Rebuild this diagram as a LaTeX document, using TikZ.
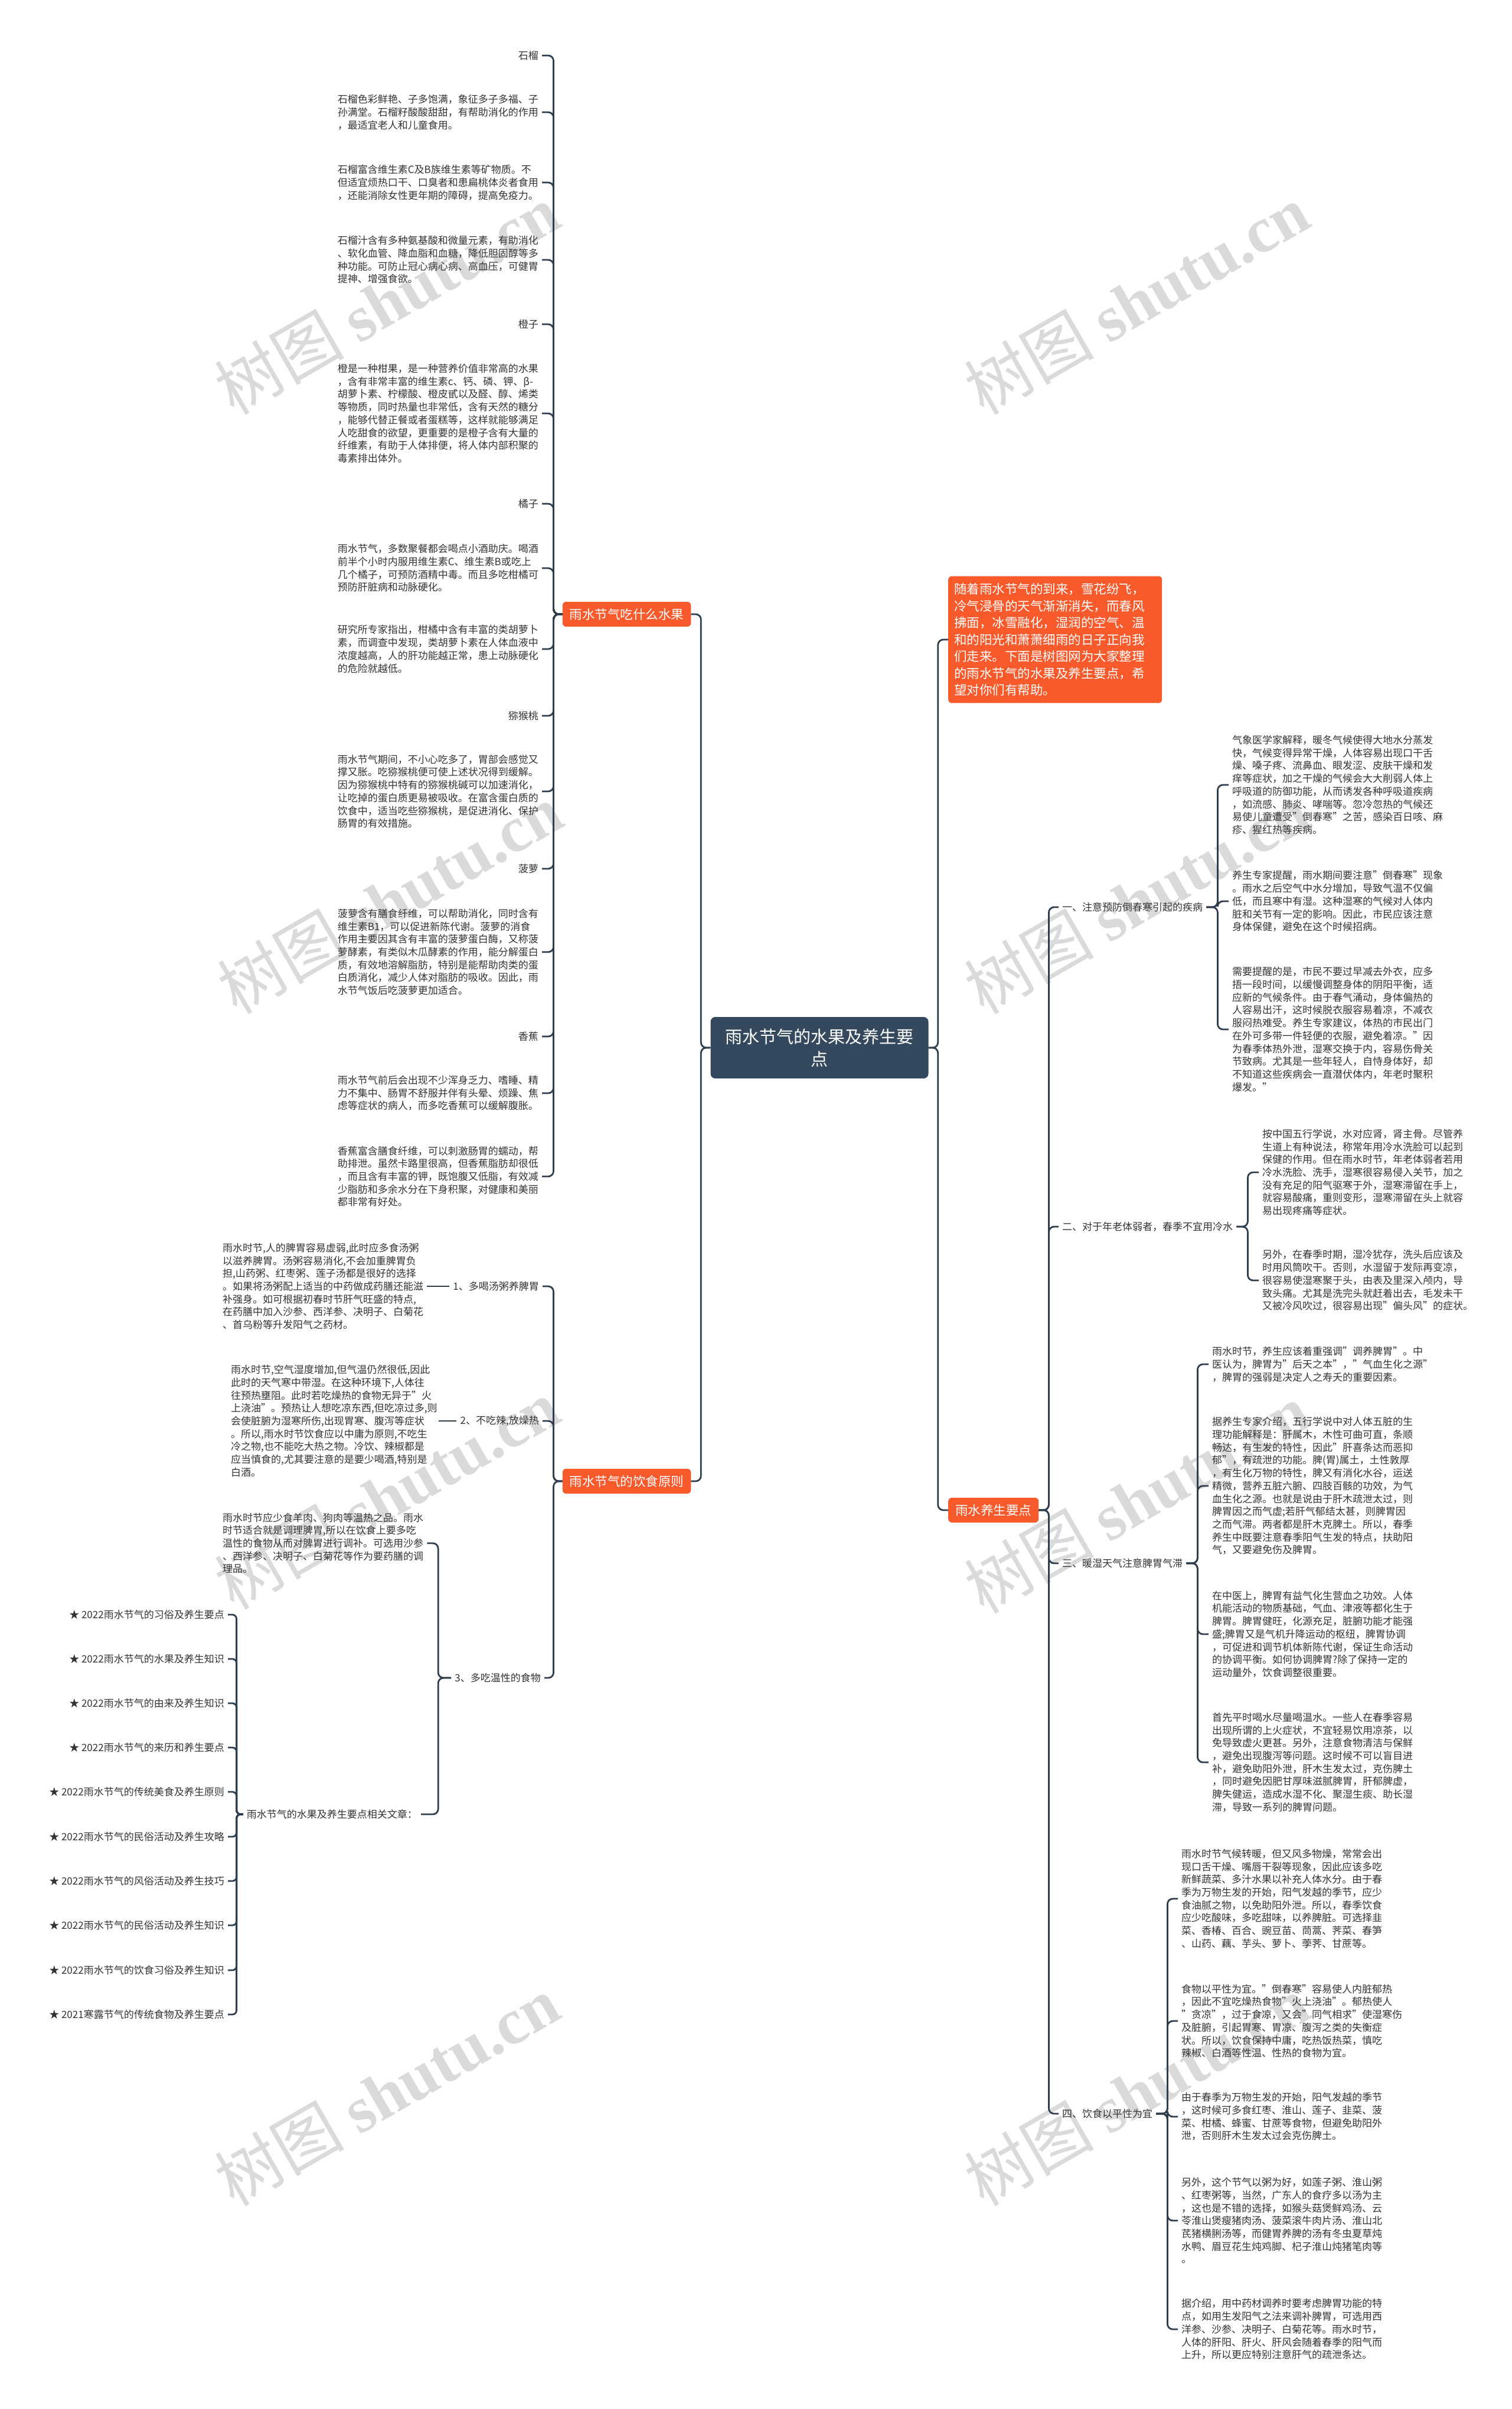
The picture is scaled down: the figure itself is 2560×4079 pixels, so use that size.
\documentclass[tikz,border=0pt]{standalone}
\usepackage{fontspec}
\setmainfont{Noto Sans CJK SC}
\newfontfamily\wmserif{Liberation Serif}
\definecolor{linec}{HTML}{2F3E4E}
\definecolor{orangec}{HTML}{F95A2C}
\definecolor{darkc}{HTML}{34495E}
\definecolor{txtc}{HTML}{333333}
\definecolor{wmc}{HTML}{DADADA}
\begin{document}
\begin{tikzpicture}[x=1pt,y=-1pt,
  txt/.style={font=\fontsize{17pt}{21.7pt}\selectfont,text=txtc,align=left,text width=340pt,inner xsep=6pt,inner ysep=2pt},
  lbl/.style={font=\fontsize{17pt}{21.7pt}\selectfont,text=txtc,inner xsep=6pt,inner ysep=2pt},
  obox/.style={fill=orangec,text=white,rounded corners=6pt,font=\fontsize{21.5pt}{28.5pt}\selectfont,inner xsep=12pt,minimum height=42pt},
  conn/.style={draw=linec,line width=2.8pt,rounded corners=9pt},
  wm/.style={text=wmc,rotate=30,font=\fontsize{110pt}{110pt}\selectfont}
]
\useasboundingbox (0,0) rectangle (2560,4079);
\fill[white] (0,0) rectangle (2560,4079);

% watermarks
\node[wm] (wm1) at (655,507) {树图 {\wmserif\bfseries shutu.cn}};
\node[wm] (wm2) at (1925,507) {树图 {\wmserif\bfseries shutu.cn}};
\node[wm] (wm3) at (660,1522) {树图 {\wmserif\bfseries shutu.cn}};
\node[wm] (wm4) at (1925,1522) {树图 {\wmserif\bfseries shutu.cn}};
\node[wm] (wm5) at (655,2530) {树图 {\wmserif\bfseries shutu.cn}};
\node[wm] (wm6) at (1925,2537) {树图 {\wmserif\bfseries shutu.cn}};
\node[wm] (wm7) at (655,3540) {树图 {\wmserif\bfseries shutu.cn}};
\node[wm] (wm8) at (1925,3540) {树图 {\wmserif\bfseries shutu.cn}};

% root
\node[fill=darkc,text=white,rounded corners=8pt,minimum width=369pt,minimum height=104pt,align=center,font=\fontsize{29pt}{38pt}\selectfont] (root) at (1388,1774) {雨水节气的水果及养生要\\点};

\node[obox,anchor=west,text width=342pt,align=left,inner xsep=10pt,inner ysep=12pt] (intro) at (1606,1083) {随着雨水节气的到来，雪花纷飞，\\冷气浸骨的天气渐渐消失，而春风\\拂面，冰雪融化，湿润的空气、温\\和的阳光和萧萧细雨的日子正向我\\们走来。下面是树图网为大家整理\\的雨水节气的水果及养生要点，希\\望对你们有帮助。};
\node[obox] (fruit) at (1061.5,1040) {雨水节气吃什么水果};
\node[obox] (diet) at (1061.5,2508) {雨水节气的饮食原则};
\node[obox,anchor=west] (yang) at (1606,2557) {雨水养生要点};

\draw[conn] (root.east) -- ++(16,0) |- (intro.west);
\draw[conn] (root.east) -- ++(16,0) |- (yang.west);
\draw[conn] (root.west) -- ++(-16,0) |- (fruit.east);
\draw[conn] (root.west) -- ++(-16,0) |- (diet.east);

% fruits
\node[lbl,anchor=east] (fl1) at (918,94) {石榴};
\node[txt,anchor=east] (ft1) at (918,190) {石榴色彩鲜艳、子多饱满，象征多子多福、子\\孙满堂。石榴籽酸酸甜甜，有帮助消化的作用\\，最适宜老人和儿童食用。};
\node[txt,anchor=east] (ft2) at (918,309) {石榴富含维生素C及B族维生素等矿物质。不\\但适宜烦热口干、口臭者和患扁桃体炎者食用\\，还能消除女性更年期的障碍，提高免疫力。};
\node[txt,anchor=east] (ft3) at (918,440) {石榴汁含有多种氨基酸和微量元素，有助消化\\、软化血管、降血脂和血糖，降低胆固醇等多\\种功能。可防止冠心病心病、高血压，可健胃\\提神、增强食欲。};
\node[lbl,anchor=east] (fl2) at (918,549) {橙子};
\node[txt,anchor=east] (ft4) at (918,700) {橙是一种柑果，是一种营养价值非常高的水果\\，含有非常丰富的维生素c、钙、磷、钾、β-\\胡萝卜素、柠檬酸、橙皮甙以及醛、醇、烯类\\等物质，同时热量也非常低，含有天然的糖分\\，能够代替正餐或者蛋糕等，这样就能够满足\\人吃甜食的欲望，更重要的是橙子含有大量的\\纤维素，有助于人体排便，将人体内部积聚的\\毒素排出体外。};
\node[lbl,anchor=east] (fl3) at (918,853) {橘子};
\node[txt,anchor=east] (ft5) at (918,962) {雨水节气，多数聚餐都会喝点小酒助庆。喝酒\\前半个小时内服用维生素C、维生素B或吃上\\几个橘子，可预防酒精中毒。而且多吃柑橘可\\预防肝脏病和动脉硬化。};
\node[txt,anchor=east] (ft6) at (918,1099) {研究所专家指出，柑橘中含有丰富的类胡萝卜\\素，而调查中发现，类胡萝卜素在人体血液中\\浓度越高，人的肝功能越正常，患上动脉硬化\\的危险就越低。};
\node[lbl,anchor=east] (fl4) at (918,1212) {猕猴桃};
\node[txt,anchor=east] (ft7) at (918,1340) {雨水节气期间，不小心吃多了，胃部会感觉又\\撑又胀。吃猕猴桃便可使上述状况得到缓解。\\因为猕猴桃中特有的猕猴桃碱可以加速消化，\\让吃掉的蛋白质更易被吸收。在富含蛋白质的\\饮食中，适当吃些猕猴桃，是促进消化、保护\\肠胃的有效措施。};
\node[lbl,anchor=east] (fl5) at (918,1471) {菠萝};
\node[txt,anchor=east] (ft8) at (918,1612) {菠萝含有膳食纤维，可以帮助消化，同时含有\\维生素B1，可以促进新陈代谢。菠萝的消食\\作用主要因其含有丰富的菠萝蛋白酶，又称菠\\萝酵素，有类似木瓜酵素的作用，能分解蛋白\\质，有效地溶解脂肪，特别是能帮助肉类的蛋\\白质消化，减少人体对脂肪的吸收。因此，雨\\水节气饭后吃菠萝更加适合。};
\node[lbl,anchor=east] (fl6) at (918,1755) {香蕉};
\node[txt,anchor=east] (ft9) at (918,1851) {雨水节气前后会出现不少浑身乏力、嗜睡、精\\力不集中、肠胃不舒服并伴有头晕、烦躁、焦\\虑等症状的病人，而多吃香蕉可以缓解腹胀。};
\node[txt,anchor=east] (ft10) at (918,1992) {香蕉富含膳食纤维，可以刺激肠胃的蠕动，帮\\助排泄。虽然卡路里很高，但香蕉脂肪却很低\\，而且含有丰富的钾，既饱腹又低脂，有效减\\少脂肪和多余水分在下身积聚，对健康和美丽\\都非常有好处。};
\foreach \c in {fl1,ft1,ft2,ft3,fl2,ft4,fl3,ft5,ft6,fl4,ft7,fl5,ft8,fl6,ft9,ft10}
  \draw[conn] (fruit.west) -- ++(-15,0) |- (\c.east);

% diet
\node[lbl,anchor=east] (L1) at (919,2178) {1、多喝汤粥养脾胃};
\node[txt,anchor=west] (D1) at (371,2178) {雨水时节,人的脾胃容易虚弱,此时应多食汤粥\\以滋养脾胃。汤粥容易消化,不会加重脾胃负\\担,山药粥、红枣粥、莲子汤都是很好的选择\\。如果将汤粥配上适当的中药做成药膳还能滋\\补强身。如可根据初春时节肝气旺盛的特点,\\在药膳中加入沙参、西洋参、决明子、白菊花\\、首乌粉等升发阳气之药材。};
\node[lbl,anchor=east] (L2) at (919,2406) {2、不吃辣,放燥热};
\node[txt,anchor=west,text width=346pt] (D2) at (385,2406) {雨水时节,空气湿度增加,但气温仍然很低,因此\\此时的天气寒中带湿。在这种环境下,人体往\\往预热壅阻。此时若吃燥热的食物无异于"火\\上浇油"。预热让人想吃凉东西,但吃凉过多,则\\会使脏腑为湿寒所伤,出现胃寒、腹泻等症状\\。所以,雨水时节饮食应以中庸为原则,不吃生\\冷之物,也不能吃大热之物。冷饮、辣椒都是\\应当慎食的,尤其要注意的是要少喝酒,特别是\\白酒。};
\node[lbl,anchor=east] (L3) at (922,2841) {3、多吃温性的食物};
\node[txt,anchor=west] (D3) at (371,2613) {雨水时节应少食羊肉、狗肉等温热之品。雨水\\时节适合就是调理脾胃,所以在饮食上要多吃\\温性的食物从而对脾胃进行调补。可选用沙参\\、西洋参、决明子、白菊花等作为要药膳的调\\理品。};
\node[lbl,anchor=east] (R) at (713,3072) {雨水节气的水果及养生要点相关文章：};
\foreach \c in {L1,L2,L3}
  \draw[conn] (diet.west) -- ++(-15,0) |- (\c.east);
\draw[conn] (L1.west) -- (L1.west -| D1.east);
\draw[conn] (L2.west) -- (L2.west -| D2.east);
\draw[conn] (L3.west) -- ++(-22,0) |- (D3.east);
\draw[conn] (L3.west) -- ++(-22,0) |- (R.east);

\node[lbl,anchor=east] (a1) at (386,2734) {★ 2022雨水节气的习俗及养生要点};
\node[lbl,anchor=east] (a2) at (386,2809) {★ 2022雨水节气的水果及养生知识};
\node[lbl,anchor=east] (a3) at (386,2884) {★ 2022雨水节气的由来及养生知识};
\node[lbl,anchor=east] (a4) at (386,2959) {★ 2022雨水节气的来历和养生要点};
\node[lbl,anchor=east] (a5) at (386,3034) {★ 2022雨水节气的传统美食及养生原则};
\node[lbl,anchor=east] (a6) at (386,3110) {★ 2022雨水节气的民俗活动及养生攻略};
\node[lbl,anchor=east] (a7) at (386,3185) {★ 2022雨水节气的风俗活动及养生技巧};
\node[lbl,anchor=east] (a8) at (386,3260) {★ 2022雨水节气的民俗活动及养生知识};
\node[lbl,anchor=east] (a9) at (386,3336) {★ 2022雨水节气的饮食习俗及养生知识};
\node[lbl,anchor=east] (a10) at (386,3411) {★ 2021寒露节气的传统食物及养生要点};
\foreach \c in {a1,a2,a3,a4,a5,a6,a7,a8,a9,a10}
  \draw[conn,rounded corners=7pt] (R.west) -- ++(-11,0) |- (\c.east);

% right side
\node[lbl,anchor=west] (S1) at (1793,1536) {一、注意预防倒春寒引起的疾病};
\node[lbl,anchor=west] (S2) at (1793,2077) {二、对于年老体弱者，春季不宜用冷水};
\node[lbl,anchor=west] (S3) at (1793,2647) {三、暖湿天气注意脾胃气滞};
\node[lbl,anchor=west] (S4) at (1793,3579) {四、饮食以平性为宜};
\foreach \c in {S1,S2,S3,S4}
  \draw[conn] (yang.east) -- ++(17,0) |- (\c.west);

\node[txt,anchor=west] (S1a) at (2081,1329) {气象医学家解释，暖冬气候使得大地水分蒸发\\快，气候变得异常干燥，人体容易出现口干舌\\燥、嗓子疼、流鼻血、眼发涩、皮肤干燥和发\\痒等症状，加之干燥的气候会大大削弱人体上\\呼吸道的防御功能，从而诱发各种呼吸道疾病\\，如流感、肺炎、哮喘等。忽冷忽热的气候还\\易使儿童遭受"倒春寒"之苦，感染百日咳、麻\\疹、猩红热等疾病。};
\node[txt,anchor=west] (S1b) at (2081,1526) {养生专家提醒，雨水期间要注意"倒春寒"现象\\。雨水之后空气中水分增加，导致气温不仅偏\\低，而且寒中有湿。这种湿寒的气候对人体内\\脏和关节有一定的影响。因此，市民应该注意\\身体保健，避免在这个时候招病。};
\node[txt,anchor=west] (S1c) at (2081,1743) {需要提醒的是，市民不要过早减去外衣，应多\\捂一段时间，以缓慢调整身体的阴阳平衡，适\\应新的气候条件。由于春气涌动，身体偏热的\\人容易出汗，这时候脱衣服容易着凉，不减衣\\服闷热难受。养生专家建议，体热的市民出门\\在外可多带一件轻便的衣服，避免着凉。"因\\为春季体热外泄，湿寒交换于内，容易伤骨关\\节致病。尤其是一些年轻人，自恃身体好，却\\不知道这些疾病会一直潜伏体内，年老时聚积\\爆发。"};
\foreach \c in {S1a,S1b,S1c}
  \draw[conn] (S1.east) -- ++(19,0) |- (\c.west);

\node[txt,anchor=west] (S2a) at (2132,1985) {按中国五行学说，水对应肾，肾主骨。尽管养\\生道上有种说法，称常年用冷水洗脸可以起到\\保健的作用。但在雨水时节，年老体弱者若用\\冷水洗脸、洗手，湿寒很容易侵入关节，加之\\没有充足的阳气驱寒于外，湿寒滞留在手上，\\就容易酸痛，重则变形，湿寒滞留在头上就容\\易出现疼痛等症状。};
\node[txt,anchor=west] (S2b) at (2132,2168) {另外，在春季时期，湿冷犹存，洗头后应该及\\时用风筒吹干。否则，水湿留于发际再变凉，\\很容易使湿寒聚于头，由表及里深入颅内，导\\致头痛。尤其是洗完头就赶着出去，毛发未干\\又被冷风吹过，很容易出现"偏头风"的症状。};
\foreach \c in {S2a,S2b}
  \draw[conn] (S2.east) -- ++(19,0) |- (\c.west);

\node[txt,anchor=west] (S3a) at (2047,2310) {雨水时节，养生应该着重强调"调养脾胃"。中\\医认为，脾胃为"后天之本"，"气血生化之源"\\，脾胃的强弱是决定人之寿夭的重要因素。};
\node[txt,anchor=west] (S3b) at (2047,2516) {据养生专家介绍，五行学说中对人体五脏的生\\理功能解释是：肝属木，木性可曲可直，条顺\\畅达，有生发的特性，因此"肝喜条达而恶抑\\郁"，有疏泄的功能。脾(胃)属土，土性敦厚\\，有生化万物的特性，脾又有消化水谷，运送\\精微，营养五脏六腑、四肢百骸的功效，为气\\血生化之源。也就是说由于肝木疏泄太过，则\\脾胃因之而气虚;若肝气郁结太甚，则脾胃因\\之而气滞。两者都是肝木克脾土。所以，春季\\养生中既要注意春季阳气生发的特点，扶助阳\\气，又要避免伤及脾胃。};
\node[txt,anchor=west] (S3c) at (2047,2767) {在中医上，脾胃有益气化生营血之功效。人体\\机能活动的物质基础，气血、津液等都化生于\\脾胃。脾胃健旺，化源充足，脏腑功能才能强\\盛;脾胃又是气机升降运动的枢纽，脾胃协调\\，可促进和调节机体新陈代谢，保证生命活动\\的协调平衡。如何协调脾胃?除了保持一定的\\运动量外，饮食调整很重要。};
\node[txt,anchor=west] (S3d) at (2047,2984) {首先平时喝水尽量喝温水。一些人在春季容易\\出现所谓的上火症状，不宜轻易饮用凉茶，以\\免导致虚火更甚。另外，注意食物清洁与保鲜\\，避免出现腹泻等问题。这时候不可以盲目进\\补，避免助阳外泄，肝木生发太过，克伤脾土\\，同时避免因肥甘厚味滋腻脾胃，肝郁脾虚，\\脾失健运，造成水湿不化、聚湿生痰、助长湿\\滞，导致一系列的脾胃问题。};
\foreach \c in {S3a,S3b,S3c,S3d}
  \draw[conn] (S3.east) -- ++(19,0) |- (\c.west);

\node[txt,anchor=west] (S4a) at (1995,3215) {雨水时节气候转暖，但又风多物燥，常常会出\\现口舌干燥、嘴唇干裂等现象，因此应该多吃\\新鲜蔬菜、多汁水果以补充人体水分。由于春\\季为万物生发的开始，阳气发越的季节，应少\\食油腻之物，以免助阳外泄。所以，春季饮食\\应少吃酸味，多吃甜味，以养脾脏。可选择韭\\菜、香椿、百合、豌豆苗、茼蒿、荠菜、春笋\\、山药、藕、芋头、萝卜、荸荠、甘蔗等。};
\node[txt,anchor=west] (S4b) at (1995,3422) {食物以平性为宜。"倒春寒"容易使人内脏郁热\\，因此不宜吃燥热食物"火上浇油"。郁热使人\\"贪凉"，过于食凉，又会"同气相求"使湿寒伤\\及脏腑，引起胃寒、胃凉、腹泻之类的失衡症\\状。所以，饮食保持中庸，吃热饭热菜，慎吃\\辣椒、白酒等性温、性热的食物为宜。};
\node[txt,anchor=west] (S4c) at (1995,3584) {由于春季为万物生发的开始，阳气发越的季节\\，这时候可多食红枣、淮山、莲子、韭菜、菠\\菜、柑橘、蜂蜜、甘蔗等食物，但避免助阳外\\泄，否则肝木生发太过会克伤脾土。};
\node[txt,anchor=west] (S4d) at (1995,3760) {另外，这个节气以粥为好，如莲子粥、淮山粥\\、红枣粥等，当然，广东人的食疗多以汤为主\\，这也是不错的选择，如猴头菇煲鲜鸡汤、云\\苓淮山煲瘦猪肉汤、菠菜滚牛肉片汤、淮山北\\芪猪横脷汤等，而健胃养脾的汤有冬虫夏草炖\\水鸭、眉豆花生炖鸡脚、杞子淮山炖猪笔肉等\\。};
\node[txt,anchor=west] (S4e) at (1995,3944) {据介绍，用中药材调养时要考虑脾胃功能的特\\点，如用生发阳气之法来调补脾胃，可选用西\\洋参、沙参、决明子、白菊花等。雨水时节，\\人体的肝阳、肝火、肝风会随着春季的阳气而\\上升，所以更应特别注意肝气的疏泄条达。};
\foreach \c in {S4a,S4b,S4c,S4d,S4e}
  \draw[conn] (S4.east) -- ++(19,0) |- (\c.west);
\end{tikzpicture}
\end{document}
